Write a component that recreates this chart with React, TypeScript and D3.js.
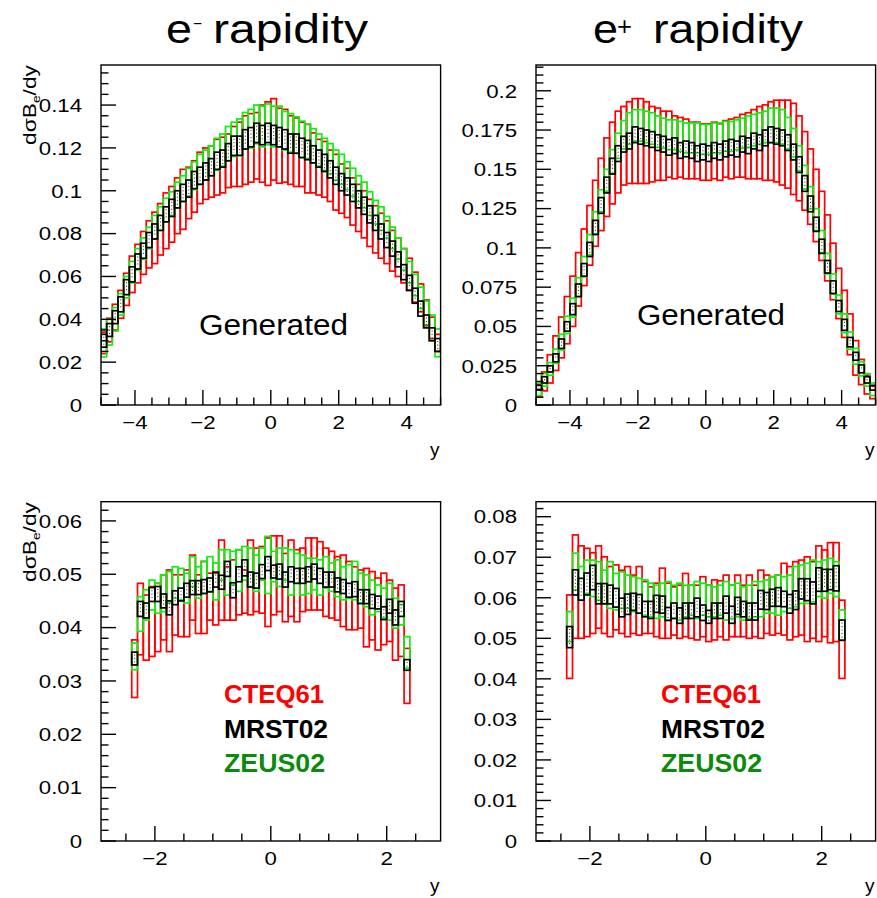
import React from "react";
import * as d3 from "d3";

// ---------- binning ----------
const TOP_BINS = { min: -5, max: 5, n: 60 };
const BOT_BINS = { min: -2.4, max: 2.4, n: 48 };

// ---------- e- rapidity, generated (centre / half-error) ----------
const EM_GEN_CTEQ_C = [.029,.035,.041,.047,.054,.061,.066,.071,.075,.078,.082,.086,.089,.093,.096,.099,.102,.106,.108,.109,.111,.112,.114,.116,.117,.119,.120,.121,.122,.122,.124,.121,.121,.119,.118,.117,.115,.113,.111,.110,.107,.104,.101,.099,.095,.092,.089,.085,.082,.079,.076,.072,.069,.065,.061,.055,.050,.043,.036,.029];
const EM_GEN_CTEQ_E = [.005,.0055,.006,.0065,.0075,.0085,.009,.010,.011,.012,.012,.013,.013,.013,.014,.012,.012,.012,.012,.012,.013,.013,.0125,.014,.015,.016,.016,.0155,.018,.0195,.019,.0175,.017,.016,.016,.015,.016,.014,.013,.013,.012,.013,.0115,.0115,.011,.011,.011,.011,.011,.0105,.010,.0095,.009,.008,.0075,.007,.0065,.006,.005,.004];
const EM_GEN_MRST_C = [.030,.035,.041,.047,.055,.061,.067,.072,.077,.081,.085,.089,.092,.096,.099,.101,.105,.107,.109,.111,.114,.115,.118,.121,.121,.124,.125,.127,.126,.127,.126,.125,.124,.122,.122,.120,.119,.117,.115,.113,.110,.107,.104,.102,.099,.096,.093,.089,.085,.081,.077,.073,.068,.062,.057,.051,.045,.039,.033,.028];
const EM_GEN_MRST_E = [.003,.003,.003,.0035,.0035,.0035,.0035,.0035,.0035,.0035,.0035,.0035,.004,.004,.004,.004,.004,.004,.004,.004,.004,.004,.004,.0045,.0045,.0045,.0045,.0045,.0045,.0045,.0045,.0045,.0045,.0045,.0045,.0045,.0045,.004,.004,.004,.004,.004,.004,.004,.004,.004,.004,.004,.0035,.0035,.0035,.0035,.0035,.0035,.0035,.0035,.0035,.003,.003,.003];
const EM_GEN_ZEUS_C = [.029,.034,.040,.047,.055,.062,.068,.073,.078,.083,.087,.091,.094,.098,.101,.104,.107,.110,.112,.114,.117,.119,.122,.124,.125,.128,.129,.131,.130,.131,.130,.130,.128,.127,.126,.124,.123,.121,.119,.117,.115,.112,.110,.107,.104,.101,.098,.094,.090,.087,.083,.078,.073,.068,.062,.056,.050,.043,.036,.029];
const EM_GEN_ZEUS_E = [.0065,.006,.0055,.005,.005,.005,.005,.005,.005,.0055,.0055,.0055,.0055,.006,.006,.0065,.0065,.007,.007,.007,.0075,.0075,.008,.008,.0085,.0085,.009,.009,.0095,.0095,.0095,.0095,.009,.009,.0085,.0085,.008,.008,.0075,.0075,.007,.007,.007,.0065,.0065,.006,.006,.0055,.0055,.0055,.005,.005,.005,.005,.005,.005,.005,.0055,.006,.0065];

// ---------- e+ rapidity, generated ----------
const EP_GEN_CTEQ_C = [.009,.015,.023,.033,.043,.054,.066,.080,.094,.108,.122,.134,.145,.154,.161,.165,.167,.168,.168,.167,.166,.166,.165,.166,.164,.164,.163,.162,.162,.161,.161,.162,.161,.163,.163,.164,.165,.165,.166,.167,.167,.168,.168,.167,.166,.163,.157,.149,.139,.127,.114,.100,.085,.071,.058,.045,.030,.021,.013,.008];
const EP_GEN_CTEQ_E = [.004,.006,.009,.011,.013,.015,.016,.017,.018,.019,.021,.023,.025,.026,.026,.025,.026,.027,.027,.026,.024,.023,.022,.021,.020,.019,.019,.018,.018,.018,.018,.018,.018,.018,.019,.019,.020,.021,.022,.023,.024,.025,.026,.027,.028,.029,.027,.025,.024,.023,.022,.021,.018,.016,.015,.013,.011,.008,.006,.004];
const EP_GEN_MRST_C = [.011,.016,.023,.030,.039,.050,.061,.073,.086,.099,.113,.127,.140,.152,.160,.166,.168,.172,.171,.170,.169,.167,.166,.164,.165,.162,.163,.162,.160,.161,.160,.162,.161,.163,.164,.163,.166,.165,.168,.167,.170,.172,.171,.170,.167,.161,.153,.141,.128,.115,.101,.088,.075,.063,.051,.040,.031,.023,.016,.011];
const EP_GEN_MRST_E = [.0015,.002,.002,.0025,.003,.003,.0035,.004,.004,.0045,.0045,.005,.005,.005,.005,.005,.005,.005,.005,.005,.005,.005,.005,.005,.005,.005,.005,.005,.005,.005,.005,.005,.005,.005,.005,.005,.005,.005,.005,.005,.005,.005,.005,.005,.005,.005,.005,.005,.005,.0045,.0045,.004,.004,.0035,.0035,.003,.0025,.0025,.002,.0015];
const EP_GEN_ZEUS_C = [.010,.016,.023,.031,.040,.051,.062,.075,.088,.102,.116,.130,.143,.155,.165,.172,.176,.178,.178,.177,.176,.174,.173,.172,.172,.171,.170,.170,.170,.169,.169,.170,.170,.171,.171,.172,.173,.174,.175,.176,.177,.178,.178,.177,.173,.167,.157,.145,.132,.118,.104,.090,.077,.064,.052,.041,.031,.023,.016,.010];
const EP_GEN_ZEUS_E = [.004,.004,.004,.0045,.005,.0055,.006,.006,.0065,.0065,.007,.007,.007,.0075,.008,.009,.010,.010,.010,.010,.010,.010,.0095,.0095,.0095,.0095,.0095,.0095,.0095,.0095,.0095,.0095,.0095,.0095,.0095,.0095,.0095,.010,.010,.010,.010,.011,.011,.011,.010,.009,.008,.0075,.007,.007,.007,.0065,.0065,.006,.006,.0055,.005,.0045,.004,.004];

// ---------- e- rapidity, lower panel (upper / lower edges) ----------
const EM_CTEQ_HI = [.0377,.0483,.0461,.0477,.0483,.0499,.0508,.0499,.0499,.0508,.0536,.0499,.0524,.0502,.0502,.0564,.0514,.0527,.0546,.0508,.0564,.0549,.0552,.0568,.0572,.0572,.0539,.0564,.0546,.0549,.0568,.0568,.0561,.0549,.0543,.0533,.0536,.0524,.0514,.0508,.0511,.0505,.0493,.0502,.0489,.0474,.0480,.0361];
const EM_CTEQ_LO = [.0269,.0349,.0339,.0346,.0355,.0377,.0355,.0386,.0383,.0383,.0414,.0389,.0389,.0414,.0405,.0414,.0414,.0414,.0424,.0427,.0424,.0430,.0427,.0402,.0424,.0430,.0411,.0421,.0411,.0430,.0433,.0433,.0433,.0421,.0418,.0414,.0402,.0396,.0396,.0399,.0364,.0377,.0358,.0368,.0374,.0339,.0346,.0258];
const EM_ZEUS_HI = [.0371,.0458,.0471,.0489,.0483,.0499,.0505,.0514,.0511,.0502,.0533,.0514,.0524,.0533,.0521,.0546,.0546,.0543,.0546,.0552,.0549,.0536,.0549,.0571,.0543,.0549,.0549,.0546,.0539,.0536,.0530,.0530,.0527,.0533,.0521,.0527,.0514,.0518,.0524,.0502,.0499,.0489,.0480,.0474,.0483,.0455,.0443,.0383];
const EM_ZEUS_LO = [.0321,.0393,.0414,.0433,.0427,.0430,.0446,.0455,.0452,.0446,.0477,.0455,.0464,.0468,.0452,.0489,.0461,.0480,.0468,.0489,.0477,.0468,.0489,.0464,.0486,.0477,.0489,.0461,.0483,.0461,.0464,.0471,.0461,.0474,.0468,.0458,.0452,.0455,.0452,.0446,.0439,.0424,.0430,.0418,.0414,.0399,.0405,.0324];
const EM_MRST_C = [.0342,.0435,.0432,.0462,.0463,.0450,.0437,.0456,.0462,.0470,.0475,.0475,.0477,.0480,.0490,.0485,.0510,.0470,.0500,.0512,.0490,.0488,.0505,.0520,.0505,.0505,.0490,.0500,.0497,.0497,.0500,.0505,.0497,.0490,.0490,.0480,.0477,.0470,.0472,.0458,.0458,.0449,.0447,.0427,.0440,.0419,.0435,.0330];
const EM_MRST_E = [.0012,.0014,.0014,.0013,.0014,.0013,.0013,.0013,.0012,.0013,.0013,.0013,.0013,.0013,.0014,.0013,.0014,.0014,.0014,.0015,.0014,.0014,.0013,.0013,.0012,.0014,.0014,.0014,.0014,.0014,.0014,.0014,.0014,.0014,.0014,.0013,.0013,.0013,.0014,.0013,.0013,.0013,.0012,.0012,.0013,.0014,.0014,.0010];

// ---------- e+ rapidity, lower panel ----------
const EP_CTEQ_HI = [.0607,.0755,.0728,.0722,.0711,.0728,.0701,.0677,.0681,.0668,.0677,.0656,.0677,.0640,.0627,.0636,.0673,.0636,.0627,.0631,.0660,.0631,.0631,.0652,.0631,.0644,.0642,.0656,.0631,.0656,.0631,.0656,.0631,.0668,.0656,.0652,.0656,.0685,.0677,.0689,.0693,.0701,.0689,.0728,.0718,.0736,.0736,.0594];
const EP_CTEQ_LO = [.0401,.0500,.0500,.0504,.0512,.0525,.0512,.0504,.0521,.0512,.0504,.0512,.0508,.0512,.0512,.0504,.0500,.0500,.0508,.0500,.0504,.0500,.0496,.0504,.0492,.0496,.0504,.0496,.0504,.0504,.0504,.0500,.0504,.0500,.0512,.0508,.0512,.0508,.0496,.0504,.0508,.0492,.0500,.0492,.0504,.0489,.0492,.0401];
const EP_ZEUS_HI = [.0566,.0710,.0677,.0693,.0693,.0689,.0668,.0689,.0660,.0664,.0656,.0652,.0648,.0644,.0636,.0631,.0636,.0640,.0631,.0636,.0631,.0631,.0640,.0636,.0631,.0627,.0631,.0640,.0631,.0636,.0627,.0631,.0640,.0640,.0644,.0652,.0656,.0652,.0656,.0677,.0681,.0685,.0693,.0689,.0693,.0697,.0689,.0570];
const EP_ZEUS_LO = [.0492,.0619,.0594,.0611,.0603,.0594,.0586,.0574,.0570,.0574,.0574,.0566,.0562,.0557,.0553,.0549,.0553,.0545,.0549,.0545,.0553,.0557,.0549,.0557,.0553,.0553,.0557,.0545,.0549,.0553,.0545,.0549,.0553,.0553,.0562,.0562,.0557,.0566,.0574,.0578,.0586,.0586,.0590,.0603,.0599,.0611,.0603,.0496];
const EP_MRST_C = [.0503,.0638,.0621,.0634,.0650,.0610,.0610,.0608,.0600,.0576,.0584,.0590,.0585,.0572,.0570,.0585,.0583,.0560,.0568,.0556,.0568,.0568,.0576,.0563,.0553,.0568,.0568,.0583,.0558,.0580,.0572,.0566,.0566,.0595,.0592,.0600,.0602,.0597,.0585,.0594,.0622,.0620,.0612,.0645,.0643,.0645,.0648,.0520];
const EP_MRST_E = [.0026,.0031,.0027,.0027,.0030,.0025,.0025,.0023,.0023,.0023,.0025,.0021,.0023,.0019,.0021,.0021,.0021,.0016,.0019,.0019,.0019,.0019,.0023,.0019,.0016,.0019,.0019,.0021,.0021,.0021,.0019,.0021,.0021,.0023,.0021,.0021,.0023,.0019,.0023,.0023,.0025,.0027,.0027,.0029,.0027,.0025,.0031,.0025];

// ---------- labels ----------
const LEGEND = ["CTEQ61", "MRST02", "ZEUS02"];
const TITLES = ["rapidity", "rapidity"];

const RED = "#ff0000";
const GREEN = "#11ee11";
const BLACK = "#000000";
const LEG_COLORS = [RED, BLACK, "#0b8a0b"];
const FONT = "'Liberation Sans', Arial, Helvetica, sans-serif";

type Series = { color: string; lo: number[]; hi: number[]; dots?: boolean };
const ce = (c: number[], e: number[]) => ({ lo: c.map((v, i) => v - e[i]), hi: c.map((v, i) => v + e[i]) });

type PanelDef = {
  id: string;
  f: { x0: number; x1: number; y0: number; y1: number };
  xDom: [number, number];
  yMax: number;
  yMajor: number;
  yMinor: number;
  bins: { min: number; max: number; n: number };
  series: Series[];
};

const panels: PanelDef[] = [
  {
    id: "tl", f: { x0: 101, x1: 440.6, y0: 65, y1: 405 }, xDom: [-5, 5], yMax: 0.1587, yMajor: 0.02, yMinor: 0.005, bins: TOP_BINS,
    series: [
      { color: RED, ...ce(EM_GEN_CTEQ_C, EM_GEN_CTEQ_E) },
      { color: GREEN, ...ce(EM_GEN_ZEUS_C, EM_GEN_ZEUS_E) },
      { color: BLACK, dots: true, ...ce(EM_GEN_MRST_C, EM_GEN_MRST_E) },
    ],
  },
  {
    id: "tr", f: { x0: 536, x1: 875.6, y0: 65, y1: 405 }, xDom: [-5, 5], yMax: 0.2164, yMajor: 0.025, yMinor: 0.005, bins: TOP_BINS,
    series: [
      { color: RED, ...ce(EP_GEN_CTEQ_C, EP_GEN_CTEQ_E) },
      { color: GREEN, ...ce(EP_GEN_ZEUS_C, EP_GEN_ZEUS_E) },
      { color: BLACK, dots: true, ...ce(EP_GEN_MRST_C, EP_GEN_MRST_E) },
    ],
  },
  {
    id: "bl", f: { x0: 101, x1: 440.6, y0: 501.7, y1: 841 }, xDom: [-2.93, 2.93], yMax: 0.0636, yMajor: 0.01, yMinor: 0.002, bins: BOT_BINS,
    series: [
      { color: RED, lo: EM_CTEQ_LO, hi: EM_CTEQ_HI },
      { color: GREEN, lo: EM_ZEUS_LO, hi: EM_ZEUS_HI },
      { color: BLACK, dots: true, ...ce(EM_MRST_C, EM_MRST_E) },
    ],
  },
  {
    id: "br", f: { x0: 536, x1: 875.6, y0: 501.7, y1: 841 }, xDom: [-2.93, 2.93], yMax: 0.0837, yMajor: 0.01, yMinor: 0.002, bins: BOT_BINS,
    series: [
      { color: RED, lo: EP_CTEQ_LO, hi: EP_CTEQ_HI },
      { color: GREEN, lo: EP_ZEUS_LO, hi: EP_ZEUS_HI },
      { color: BLACK, dots: true, ...ce(EP_MRST_C, EP_MRST_E) },
    ],
  },
];

const fmt = (v: number) => String(+v.toFixed(4)).replace("-", "\u2212");
const isMult = (v: number, s: number) => Math.abs(v / s - Math.round(v / s)) < 1e-6;

function Panel({ p }: { p: PanelDef }) {
  const { f } = p;
  const x = d3.scaleLinear().domain(p.xDom).range([f.x0, f.x1]);
  const y = d3.scaleLinear().domain([0, p.yMax]).range([f.y1, f.y0]);
  const bw = (p.bins.max - p.bins.min) / p.bins.n;

  const yTicks: { v: number; major: boolean }[] = [];
  const nY = Math.floor(p.yMax / p.yMinor + 1e-6);
  for (let k = 0; k <= nY; k++) {
    const v = k * p.yMinor;
    yTicks.push({ v, major: isMult(v, p.yMajor) });
  }
  const xTicks: { v: number; major: boolean }[] = [];
  for (let k = Math.ceil(p.xDom[0] / 0.5 - 1e-9); k <= Math.floor(p.xDom[1] / 0.5 + 1e-9); k++) {
    const v = k * 0.5;
    xTicks.push({ v, major: isMult(v, 2) });
  }

  return (
    <g>
      <defs>
        <clipPath id={`clip-${p.id}`}>
          <rect x={f.x0} y={f.y0} width={f.x1 - f.x0} height={f.y1 - f.y0} />
        </clipPath>
      </defs>
      <g clipPath={`url(#clip-${p.id})`}>
        {p.series.map((s, si) => (
          <g key={si}>
            {s.lo.map((lo, i) => {
              const a = p.bins.min + i * bw;
              const b = a + bw;
              const x0 = x(a), x1 = x(b);
              const yt = y(s.hi[i]), yb = y(lo);
              return (
                <g key={i}>
                  <rect x={x0} y={yt} width={x1 - x0} height={yb - yt} fill="none" stroke={s.color} strokeWidth={1.7} />
                  {s.dots && (
                    <line x1={(x0 + x1) / 2} x2={(x0 + x1) / 2} y1={yt + 2.5} y2={yb - 2.5} stroke="#222" strokeWidth={1} strokeDasharray="1,2.5" />
                  )}
                </g>
              );
            })}
          </g>
        ))}
      </g>
      <rect x={f.x0} y={f.y0} width={f.x1 - f.x0} height={f.y1 - f.y0} fill="none" stroke="#000" strokeWidth={1.4} />
      {yTicks.map((t, i) => (
        <line key={"yt" + i} x1={f.x0} x2={f.x0 + (t.major ? 15 : 7.5)} y1={y(t.v)} y2={y(t.v)} stroke="#000" strokeWidth={1.4} />
      ))}
      {xTicks.map((t, i) => (
        <line key={"xt" + i} x1={x(t.v)} x2={x(t.v)} y1={f.y1} y2={f.y1 - (t.major ? 15 : 7.5)} stroke="#000" strokeWidth={1.4} />
      ))}
      {yTicks.filter((t) => t.major).map((t, i) => (
        <text key={"yl" + i} transform={`translate(${f.x0 - 19},${y(t.v) + 6.8}) scale(1.17,1)`} textAnchor="end" fontSize={19} fontFamily={FONT} fill="#000">
          {fmt(t.v)}
        </text>
      ))}
      {xTicks.filter((t) => t.major).map((t, i) => (
        <text key={"xl" + i} transform={`translate(${x(t.v)},${f.y1 + 23.5}) scale(1.17,1)`} textAnchor="middle" fontSize={19} fontFamily={FONT} fill="#000">
          {fmt(t.v)}
        </text>
      ))}
      <text x={f.x1 - 1} y={f.y1 + 51} textAnchor="end" fontSize={19} fontFamily={FONT} fill="#000">y</text>
    </g>
  );
}

function YTitle({ x, y }: { x: number; y: number }) {
  return (
    <text transform={`translate(${x},${y}) rotate(-90)`} fontSize={18} fontFamily={FONT} fill="#000" textLength={80} lengthAdjust="spacingAndGlyphs">
      dσB<tspan fontSize={11} dy={4}>e</tspan><tspan dy={-4}>/dy</tspan>
    </text>
  );
}

function Legend({ x, y0 }: { x: number; y0: number }) {
  const lens = [100, 104, 101];
  return (
    <g>
      {LEGEND.map((t, i) => (
        <text key={t} x={x} y={y0 + i * 34.5} fontSize={25} fontWeight="bold" fontFamily={FONT} fill={LEG_COLORS[i]} textLength={lens[i]} lengthAdjust="spacingAndGlyphs">
          {t}
        </text>
      ))}
    </g>
  );
}

export default function App() {
  return (
    <svg width={877} height={898} style={{ position: "absolute", left: 0, top: 0, display: "block" }} xmlns="http://www.w3.org/2000/svg">
      <rect x={0} y={0} width={877} height={898} fill="#fff" />
      {/* titles */}
      <text x={166} y={43} fontSize={41} fontFamily={FONT} fill="#000" textLength={26} lengthAdjust="spacingAndGlyphs">e</text>
      <text x={193} y={29} fontSize={16} fontFamily={FONT} fill="#000" textLength={9} lengthAdjust="spacingAndGlyphs">{"\u2212"}</text>
      <text x={213} y={43} fontSize={41} fontFamily={FONT} fill="#000" textLength={155} lengthAdjust="spacingAndGlyphs">{TITLES[0]}</text>
      <text x={593} y={43} fontSize={41} fontFamily={FONT} fill="#000" textLength={25} lengthAdjust="spacingAndGlyphs">e</text>
      <text x={617} y={35} fontSize={26} fontFamily={FONT} fill="#000" textLength={15} lengthAdjust="spacingAndGlyphs">+</text>
      <text x={653} y={43} fontSize={41} fontFamily={FONT} fill="#000" textLength={150} lengthAdjust="spacingAndGlyphs">{TITLES[1]}</text>

      {panels.map((p) => (
        <Panel key={p.id} p={p} />
      ))}

      <YTitle x={36} y={145} />
      <YTitle x={36} y={582} />

      <text x={199} y={335} fontSize={30} fontFamily={FONT} fill="#000" textLength={149} lengthAdjust="spacingAndGlyphs">Generated</text>
      <text x={637} y={325} fontSize={30} fontFamily={FONT} fill="#000" textLength={148} lengthAdjust="spacingAndGlyphs">Generated</text>

      <Legend x={224} y0={703} />
      <Legend x={661} y0={703} />
    </svg>
  );
}
